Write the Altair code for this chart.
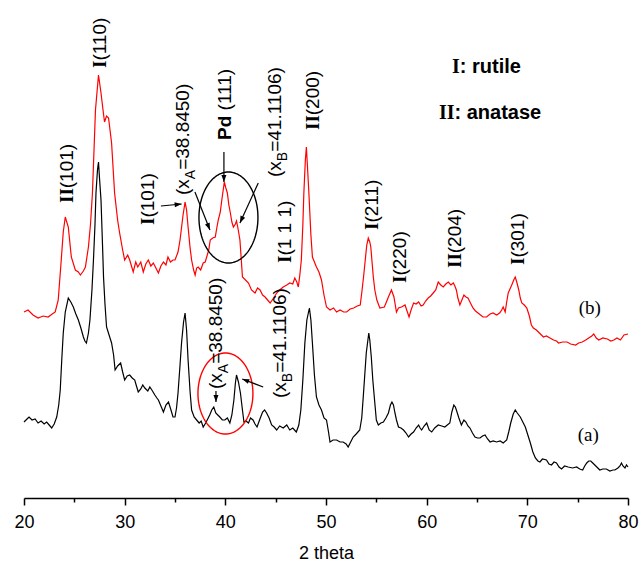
import math
import numpy as np
import pandas as pd
import altair as alt

# ---- XRD patterns: 2-theta (deg) and stacked intensity (a.u.) ----
theta_b = [20.0, 20.4, 20.9, 21.4, 21.9, 22.4, 22.8, 23.1, 23.4, 23.7, 23.9, 24.1, 24.4, 24.7, 25.1, 25.4,
           25.6, 25.9, 26.1, 26.4, 26.6, 26.8, 27.1, 27.4, 27.65, 27.85, 28.0, 28.2, 28.4, 28.7, 29.0, 29.3,
           29.5, 29.8, 30.0, 30.3, 30.5, 30.85, 31.1, 31.3, 31.6, 31.85, 32.1, 32.35, 32.6, 32.85, 33.1, 33.35,
           33.6, 33.85, 34.1, 34.3, 34.55, 34.8, 35.0, 35.3, 35.5, 35.8, 36.0, 36.15, 36.3, 36.5, 36.65, 36.85,
           37.0, 37.15, 37.3, 37.55, 37.8, 38.0, 38.15, 38.35, 38.5, 38.75, 39.0, 39.15, 39.3, 39.5, 39.65, 39.9,
           40.05, 40.2, 40.35, 40.5, 40.65, 40.8, 41.0, 41.11, 41.25, 41.45, 41.6, 41.7, 42.0, 42.3, 42.6, 42.95,
           43.2, 43.45, 43.7, 43.95, 44.2, 44.45, 44.8, 45.1, 45.4, 45.75, 46.1, 46.4, 46.7, 46.9, 47.1, 47.25,
           47.4, 47.55, 47.7, 47.8, 47.95, 48.05, 48.15, 48.3, 48.5, 48.65, 48.85, 49.05, 49.3, 49.55, 49.8, 50.05,
           50.4, 50.75, 51.05, 51.4, 51.75, 52.05, 52.4, 52.75, 53.1, 53.4, 53.55, 53.75, 53.9, 54.05, 54.2, 54.35,
           54.45, 54.6, 54.7, 54.85, 55.05, 55.35, 55.8, 56.0, 56.2, 56.5, 56.75, 57.0, 57.2, 57.5, 57.85, 58.05,
           58.25, 58.45, 58.7, 58.95, 59.2, 59.45, 59.65, 59.9, 60.15, 60.4, 60.65, 60.9, 61.15, 61.4, 61.65, 61.9,
           62.15, 62.4, 62.65, 62.8, 62.95, 63.1, 63.3, 63.5, 63.7, 63.9, 64.1, 64.35, 64.6, 64.85, 65.1, 65.35,
           65.6, 65.95, 66.3, 66.6, 66.95, 67.25, 67.45, 67.6, 67.8, 67.95, 68.1, 68.45, 68.65, 68.8, 68.95, 69.15,
           69.3, 69.45, 69.7, 69.95, 70.2, 70.4, 70.6, 70.9, 71.2, 71.6, 71.9, 72.25, 72.6, 72.9, 73.1, 73.5,
           73.95, 74.3, 74.8, 75.1, 75.45, 75.8, 76.1, 76.4, 76.6, 76.85, 77.1, 77.5, 77.95, 78.3, 78.6, 78.9,
           79.25, 79.6, 80.0]
int_b = [186, 188, 183, 180, 182, 181, 184, 186, 198, 238, 266, 281, 271, 241, 228, 226,
         223, 227, 231, 251, 273, 305, 388, 423, 405, 388, 376, 382, 380, 355, 305, 278,
         265, 248, 238, 243, 238, 226, 236, 231, 236, 226, 234, 238, 232, 235, 230, 225,
         232, 236, 233, 241, 236, 238, 238, 246, 258, 283, 296, 288, 271, 250, 238, 228,
         223, 230, 231, 228, 235, 236, 241, 248, 258, 260, 261, 270, 278, 286, 298, 316,
         310, 305, 293, 285, 276, 271, 274, 277, 270, 258, 236, 221, 218, 215, 208, 205,
         210, 208, 203, 201, 198, 195, 200, 205, 208, 211, 213, 215, 214, 220, 216, 211,
         223, 238, 273, 305, 338, 351, 333, 305, 263, 241, 236, 231, 226, 218, 203, 191,
         188, 190, 186, 188, 186, 186, 189, 190, 192, 193, 205, 223, 238, 253, 260, 256,
         251, 233, 221, 208, 198, 190, 191, 196, 201, 208, 201, 186, 190, 191, 193, 187,
         181, 188, 195, 194, 196, 192, 193, 197, 200, 202, 205, 208, 216, 213, 211, 214,
         216, 213, 215, 212, 208, 200, 193, 198, 203, 201, 200, 195, 190, 187, 185, 183,
         181, 181, 184, 185, 183, 185, 188, 191, 186, 196, 205, 213, 218, 221, 216, 208,
         200, 195, 193, 190, 182, 173, 170, 168, 165, 161, 162, 160, 158, 157, 155, 156,
         156, 154, 153, 155, 156, 158, 160, 162, 164, 160, 158, 160, 159, 157, 158, 160,
         158, 163, 164]

theta_a = [20.0, 20.3, 20.5, 20.8, 21.1, 21.4, 21.7, 22.0, 22.25, 22.5, 22.75, 23.0, 23.25, 23.45, 23.6, 23.75,
           23.9, 24.1, 24.4, 24.65, 24.9, 25.15, 25.4, 25.65, 25.9, 26.05, 26.2, 26.4, 26.55, 26.75, 26.9, 27.05,
           27.15, 27.3, 27.4, 27.5, 27.65, 27.8, 27.9, 28.05, 28.2, 28.45, 28.7, 28.9, 29.05, 29.3, 29.6, 29.8,
           30.0, 30.25, 30.5, 30.75, 31.0, 31.2, 31.35, 31.6, 31.8, 32.0, 32.3, 32.5, 32.7, 33.0, 33.2, 33.35,
           33.6, 33.85, 34.1, 34.35, 34.6, 34.8, 35.0, 35.15, 35.3, 35.5, 35.65, 35.85, 36.0, 36.15, 36.3, 36.5,
           36.65, 36.9, 37.15, 37.4, 37.6, 37.8, 38.05, 38.3, 38.45, 38.65, 38.85, 39.05, 39.25, 39.45, 39.7, 39.95,
           40.2, 40.45, 40.65, 40.85, 41.0, 41.11, 41.3, 41.5, 41.7, 41.85, 42.05, 42.3, 42.5, 42.75, 42.95, 43.15,
           43.4, 43.7, 43.9, 44.1, 44.35, 44.6, 44.85, 45.1, 45.4, 45.75, 46.1, 46.4, 46.7, 47.05, 47.3, 47.5,
           47.7, 47.9, 48.1, 48.35, 48.5, 48.65, 48.85, 49.05, 49.3, 49.55, 49.8, 50.05, 50.25, 50.4, 50.7, 51.05,
           51.4, 51.7, 52.0, 52.2, 52.45, 52.7, 53.0, 53.35, 53.55, 53.7, 53.85, 54.0, 54.25, 54.35, 54.5, 54.65,
           54.85, 55.0, 55.2, 55.45, 55.7, 55.95, 56.2, 56.4, 56.55, 56.7, 56.85, 57.0, 57.2, 57.45, 57.7, 57.95,
           58.2, 58.45, 58.7, 58.95, 59.2, 59.35, 59.5, 59.75, 60.0, 60.25, 60.5, 60.8, 61.15, 61.5, 61.8, 62.05,
           62.3, 62.5, 62.7, 62.85, 62.95, 63.2, 63.45, 63.7, 63.9, 64.1, 64.3, 64.55, 64.8, 65.05, 65.3, 65.55,
           65.8, 66.05, 66.3, 66.6, 66.95, 67.3, 67.6, 67.95, 68.15, 68.35, 68.6, 68.8, 69.0, 69.3, 69.55, 69.8,
           70.05, 70.3, 70.55, 70.8, 71.05, 71.25, 71.5, 71.9, 72.15, 72.4, 72.65, 72.9, 73.15, 73.4, 73.7, 74.05,
           74.5, 74.9, 75.2, 75.5, 75.7, 75.9, 76.1, 76.3, 76.5, 76.7, 77.0, 77.2, 77.5, 77.85, 78.2, 78.5,
           78.7, 79.0, 79.2, 79.35, 79.5, 79.7, 79.85, 80.0]
int_a = [76, 79, 81, 78, 79, 75, 77, 74, 76, 73, 70, 74, 81, 93, 108, 138,
         165, 186, 200, 196, 191, 184, 178, 170, 161, 157, 155, 165, 178, 208, 238, 273,
         305, 328, 336, 320, 298, 253, 221, 193, 171, 163, 155, 143, 128, 132, 135, 126,
         118, 122, 123, 120, 118, 111, 106, 109, 113, 110, 107, 111, 108, 103, 100, 98,
         92, 86, 93, 96, 88, 81, 81, 90, 105, 133, 155, 176, 185, 168, 138, 106,
         88, 81, 78, 75, 77, 71, 75, 80, 83, 88, 91, 85, 83, 81, 78, 78,
         80, 75, 83, 98, 115, 123, 116, 105, 88, 76, 77, 75, 80, 78, 74, 71,
         78, 86, 88, 85, 80, 73, 71, 68, 72, 70, 73, 68, 70, 66, 73, 88,
         118, 155, 178, 190, 178, 155, 123, 101, 93, 88, 80, 78, 66, 56, 58, 58,
         56, 56, 54, 51, 56, 61, 64, 68, 80, 101, 123, 145, 165, 158, 141, 118,
         95, 78, 73, 75, 76, 80, 85, 93, 96, 93, 85, 78, 71, 70, 68, 65,
         61, 64, 66, 70, 73, 70, 68, 72, 75, 68, 66, 70, 73, 72, 71, 73,
         75, 86, 93, 91, 88, 80, 73, 78, 76, 72, 70, 65, 61, 60, 60, 62,
         63, 59, 56, 57, 56, 57, 55, 58, 66, 75, 84, 88, 85, 81, 76, 71,
         63, 55, 46, 40, 37, 36, 39, 38, 34, 33, 36, 35, 31, 29, 32, 31,
         30, 31, 29, 28, 32, 35, 37, 37, 35, 33, 30, 28, 29, 29, 27, 28,
         28, 30, 32, 35, 32, 30, 33, 31]

# ---- reflection labels (vertical, reading upward): 2-theta, intensity where the text starts ----
peak_labels = [
    (24.24, 295, [("II", "roman"), ("(101)", "sans")]),
    (27.55, 430, [("I", "roman"), ("(110)", "sans")]),
    (32.35, 273, [("I", "roman"), ("(101)", "sans")]),
    (35.82, 303, [("(x", "sans"), ("A", "sub"), ("=38.8450)", "sans")]),
    (39.96, 358, [("Pd", "bold"), (" (111)", "sans")]),
    (44.93, 321, [("(x", "sans"), ("B", "sub"), ("=41.1106)", "sans")]),
    (45.92, 235, [("I", "roman"), ("(1 1 1)", "sans")]),
    (48.70, 368, [("II", "roman"), ("(200)", "sans")]),
    (54.53, 268, [("I", "roman"), ("(211)", "sans")]),
    (57.34, 215, [("I", "roman"), ("(220)", "sans")]),
    (62.80, 230, [("II", "roman"), ("(204)", "sans")]),
    (69.06, 233, [("I", "roman"), ("(301)", "sans")]),
    (39.07, 109, [("(x", "sans"), ("A", "sub"), ("=38.8450)", "sans")]),
    (45.42, 100, [("(x", "sans"), ("B", "sub"), ("=41.1106)", "sans")]),
]

# phase key (horizontal): left edge 2-theta, centre intensity
phase_key = [
    (62.52, 431, [("I", "roman"), (": rutile", "bold")]),
    (61.22, 385, [("II", "roman"), (": anatase", "bold")]),
]

# curve names
curve_names = [(76.2, 190, "(b)"), (76.06, 63, "(a)")]

# arrows: start -> head (2-theta, intensity)
arrows = [
    (33.60, 292, 35.66, 294),
    (36.98, 306, 38.47, 268),
    (39.86, 346, 39.86, 316),
    (43.27, 315, 41.45, 275),
    (39.07, 107, 39.07, 96),
    (43.76, 111, 41.68, 119),
]

# ellipses around the Pd region: centre 2-theta, centre intensity, semi-axes, colour
ellipses = [
    (40.31, 280.5, 2.93, 45.5, "#000000"),
    (40.01, 104.5, 2.73, 40.5, "#ff0000"),
]

# ---- geometry ----
X_MIN, X_MAX = 20, 80
W, H = 604, 488
Y_MAX = 488
PX_PER_DEG = W / (X_MAX - X_MIN)
PX_PER_INT = H / Y_MAX

SANS = "Liberation Sans"
SERIF = "Liberation Serif"
FS_ROT = 19
FS_SUB = 14
FS_KEY = 20
SUB_SHIFT = 8  # px, subscript drop (screen right for upward text)

# advance widths in em, used to chain text fragments
EM = {
    "sans": {"(": 0.333, ")": 0.333, "x": 0.5, "=": 0.584, ".": 0.278, " ": 0.278,
             "A": 0.667, "B": 0.667, **{d: 0.556 for d in "0123456789"}},
    "bold": {"P": 0.667, "d": 0.611, ":": 0.333, " ": 0.278, "r": 0.389, "u": 0.611,
             "t": 0.333, "i": 0.278, "l": 0.278, "e": 0.556, "a": 0.556, "n": 0.611, "s": 0.556},
    "roman": {"I": 0.389},
}


def advance(text, kind, size):
    table = EM["sans" if kind == "sub" else kind]
    return sum(table.get(c, 0.55) for c in text) * size


rows = []
for x0, y0, frags in peak_labels:
    off = 0.0
    for txt, kind in frags:
        size = FS_SUB if kind == "sub" else FS_ROT
        stripped = txt.lstrip()
        off += advance(txt[: len(txt) - len(stripped)], kind, size)
        xs = x0 + (SUB_SHIFT / PX_PER_DEG if kind == "sub" else 0.0)
        rows.append(dict(x=xs, y=y0 + off / PX_PER_INT, text=stripped, kind=kind, size=size, orient="v"))
        off += advance(stripped, kind, size)

for x0, y0, frags in phase_key:
    off = 0.0
    for txt, kind in frags:
        rows.append(dict(x=x0 + off / PX_PER_DEG, y=y0, text=txt, kind=kind, size=FS_KEY, orient="h"))
        off += advance(txt, kind, FS_KEY)

labels = pd.DataFrame(rows)

FONT_OF = {"roman": (SERIF, "bold"), "sans": (SANS, "normal"), "sub": (SANS, "normal"), "bold": (SANS, "bold")}

xs = alt.Scale(domain=[X_MIN, X_MAX], nice=False, zero=False)
ys = alt.Scale(domain=[0, Y_MAX], nice=False, zero=False)

x_axis = alt.Axis(
    title="2 theta",
    values=list(range(20, 81, 5)),
    labelExpr="datum.value % 10 === 0 ? datum.label : ''",
    tickSize={"condition": {"test": "datum.value % 10 === 0", "value": 7}, "value": 4},
    tickWidth=1.5,
    tickColor="black",
    domainColor="black",
    domainWidth=1.5,
    labelFont=SANS,
    labelFontSize=18,
    labelColor="black",
    labelPadding=8,
    labelFlush=False,
    titleFont=SANS,
    titleFontSize=18,
    titleFontWeight="normal",
    titleColor="black",
    titlePadding=13,
    grid=False,
)

df_b = pd.DataFrame({"t": theta_b, "i": int_b})
df_a = pd.DataFrame({"t": theta_a, "i": int_a})

line_b = alt.Chart(df_b).mark_line(color="#ff0000", strokeWidth=1.2).encode(
    x=alt.X("t:Q", scale=xs, axis=x_axis),
    y=alt.Y("i:Q", scale=ys, axis=None),
)
line_a = alt.Chart(df_a).mark_line(color="#000000", strokeWidth=1.2).encode(
    x=alt.X("t:Q", scale=xs),
    y=alt.Y("i:Q", scale=ys),
)

# ellipse outlines
ell_rows = []
for k, (cx, cy, rx, ry, col) in enumerate(ellipses):
    for j, a in enumerate(np.linspace(0, 2 * np.pi, 121)):
        ell_rows.append(dict(e=k, o=j, x=cx + rx * np.cos(a), y=cy + ry * np.sin(a), col=col))
ell_df = pd.DataFrame(ell_rows)
ell = alt.Chart(ell_df).mark_line(strokeWidth=1.4).encode(
    x=alt.X("x:Q", scale=xs),
    y=alt.Y("y:Q", scale=ys),
    detail="e:N",
    order="o:Q",
    color=alt.Color("col:N", scale=None),
)

# arrows: shaft + head
arr_df = pd.DataFrame(arrows, columns=["x0", "y0", "x1", "y1"])
arr_df["ang"] = [
    (math.degrees(math.atan2((r.x1 - r.x0) * PX_PER_DEG, (r.y1 - r.y0) * PX_PER_INT)) + 360) % 360
    for r in arr_df.itertuples()
]
shafts = alt.Chart(arr_df).mark_rule(color="black", strokeWidth=1.2).encode(
    x=alt.X("x0:Q", scale=xs), y=alt.Y("y0:Q", scale=ys), x2="x1:Q", y2="y1:Q"
)
heads = alt.Chart(arr_df).mark_point(
    shape="M0,0 L-0.36,1 L0.36,1 Z", filled=True, size=196, color="black", opacity=1
).encode(
    x=alt.X("x1:Q", scale=xs), y=alt.Y("y1:Q", scale=ys), angle=alt.Angle("ang:Q", scale=None)
)

layers = [line_b, line_a, ell, shafts, heads]

for orient in ["v", "h"]:
    for kind, (font, weight) in FONT_OF.items():
        sub = labels[(labels.orient == orient) & (labels.kind == kind)]
        if sub.empty:
            continue
        layers.append(
            alt.Chart(sub).mark_text(
                font=font, fontWeight=weight, color="black", align="left", baseline="middle",
                angle=270 if orient == "v" else 0,
            ).encode(
                x=alt.X("x:Q", scale=xs), y=alt.Y("y:Q", scale=ys), text="text:N",
                size=alt.Size("size:Q", scale=None),
            )
        )

names_df = pd.DataFrame(curve_names, columns=["x", "y", "text"])
layers.append(
    alt.Chart(names_df).mark_text(
        font=SERIF, fontSize=19, color="black", align="center", baseline="middle"
    ).encode(x=alt.X("x:Q", scale=xs), y=alt.Y("y:Q", scale=ys), text="text:N")
)

chart = alt.layer(*layers).properties(
    width=W, height=H,
    padding={"left": 24, "top": 10, "right": 13, "bottom": 64},
    autosize="none",
    background="white",
).configure_view(stroke=None)

chart.save("out.html", embed_options={"renderer": "svg", "actions": False})
